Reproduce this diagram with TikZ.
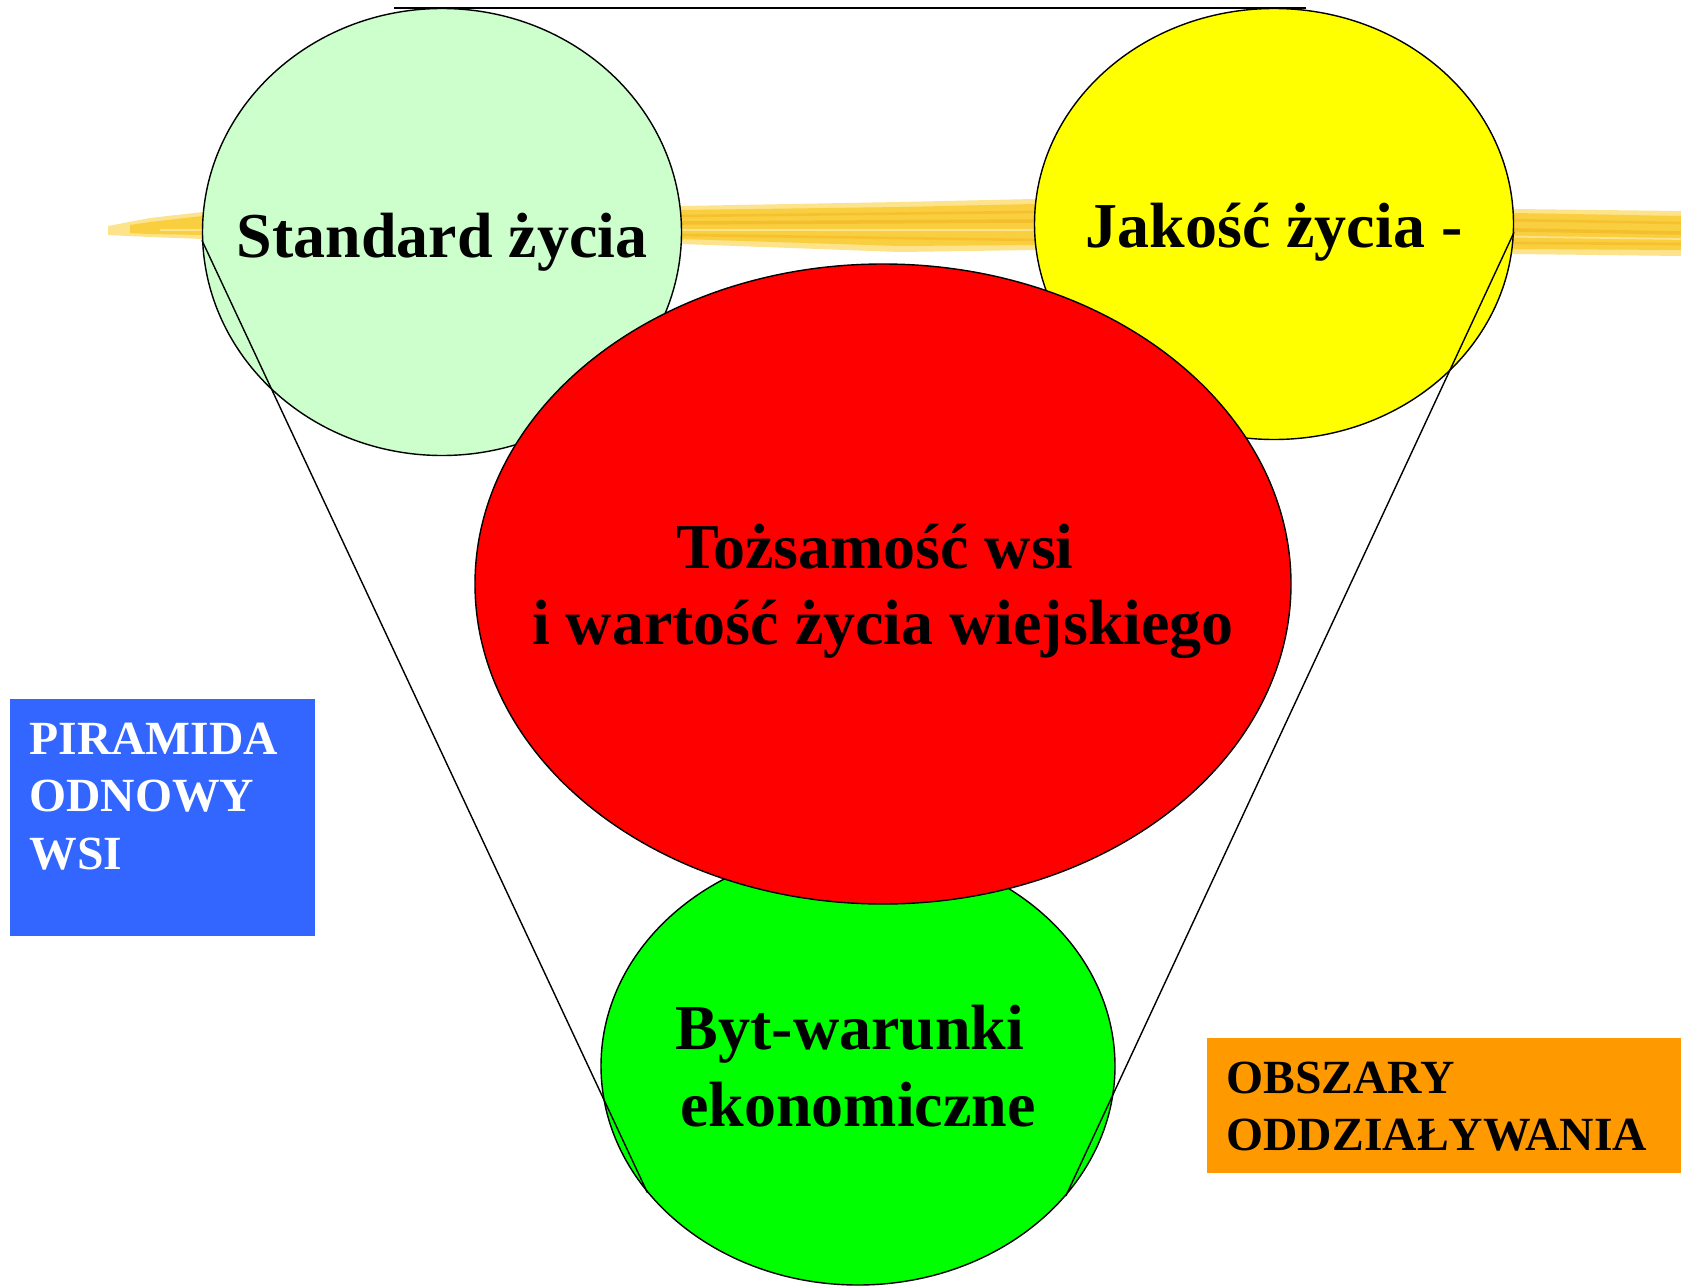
\documentclass[tikz,border=0pt]{standalone}
\usepackage{fontspec}
\setmainfont{Liberation Serif}
\usepackage{tikz}
\usetikzlibrary{shapes.geometric,positioning,calc}

\definecolor{jasnozielony}{HTML}{CCFFCC}
\definecolor{zolty}{HTML}{FFFF00}
\definecolor{czerwony}{HTML}{FF0000}
\definecolor{zielony}{HTML}{00FF00}
\definecolor{niebieski}{HTML}{3366FF}
\definecolor{pomaranczowy}{HTML}{FF9900}
\definecolor{pedzel}{HTML}{F9CF3F}
\definecolor{pedzeljasny}{HTML}{FCE38C}
\definecolor{pedzelciemny}{HTML}{F2B520}

\tikzset{
  kolo/.style={ellipse, draw, line width=0.8pt, inner sep=0pt},
  duzy/.style={font=\fontsize{36.4}{43.5}\selectfont\bfseries, align=center, inner sep=0pt},
  maly/.style={font=\fontsize{27.1}{32.6}\selectfont\bfseries, align=left, inner sep=0pt, anchor=north west},
  pole/.style={rectangle, inner sep=0pt}
}

\begin{document}
\begin{tikzpicture}
        % Rozmiar
        \useasboundingbox (0,0) rectangle (33.62,-25.72);
        % Pas - pędzel
        \fill[pedzeljasny] (2.16,-4.52) -- (2.16,-4.70) -- (3.00,-4.74) -- (4.06,-4.78) -- (13.64,-4.88) -- (18.00,-5.04) -- (20.68,-5.00) -- (30.28,-5.08) -- (33.62,-5.12) -- (33.62,-4.22) -- (30.28,-4.18) -- (20.68,-3.98) -- (18.00,-4.04) -- (13.64,-4.12) -- (4.06,-4.24) -- (3.00,-4.36) -- cycle;
        \fill[pedzel] (2.60,-4.50) -- (2.60,-4.66) -- (3.00,-4.68) -- (4.06,-4.70) -- (13.64,-4.78) -- (18.00,-4.92) -- (20.68,-4.90) -- (30.28,-4.98) -- (33.62,-5.00) -- (33.62,-4.32) -- (30.28,-4.26) -- (20.68,-4.08) -- (18.00,-4.14) -- (13.64,-4.20) -- (4.06,-4.32) -- (3.00,-4.44) -- cycle;
        \draw[pedzelciemny, line width=2pt, opacity=0.6] (4.06,-4.52) -- (13.64,-4.46) -- (20.68,-4.42) -- (33.62,-4.66);
        \draw[pedzelciemny, line width=1.5pt, opacity=0.5] (13.64,-4.32) -- (20.68,-4.24) -- (33.62,-4.46);
        \draw[pedzelciemny, line width=1.5pt, opacity=0.5] (13.64,-4.70) -- (20.68,-4.80) -- (33.62,-4.88);
        \draw[pedzeljasny, line width=1pt] (3.20,-4.60) -- (13.64,-4.60) -- (20.68,-4.60) -- (33.62,-4.78);
        % Elipsa - Standard życia
        \node at (8.84,-4.64) [kolo, fill=jasnozielony, minimum width=9.58cm, minimum height=8.94cm] (std) {};
        % Elipsa - Jakość życia
        \node at (25.48,-4.48) [kolo, fill=zolty, minimum width=9.58cm, minimum height=8.62cm] (jak) {};
        % Elipsa - Byt
        \node at (17.16,-21.32) [kolo, fill=zielony, minimum width=10.28cm, minimum height=8.76cm] (byt) {};
        % Elipsa - Tożsamość wsi
        \node at (17.66,-11.68) [kolo, fill=czerwony, minimum width=16.32cm, minimum height=12.80cm] (tozs) {};
        % Linie piramidy
        \draw[line width=1pt] ([xshift=-0.96cm]std.north) -- ([xshift=0.64cm]jak.north);
        \draw[line width=0.8pt] (std.182.9) -- (byt.211.4);
        \draw[line width=0.8pt] (jak.358.8) -- (byt.328.7);
        % Teksty w elipsach
        \node at ([yshift=-0.50cm]std.center) [duzy, anchor=base] (stdtxt) {Standard życia};
        \node at ([yshift=-0.46cm]jak.center) [duzy, anchor=base] (jaktxt) {Jakość życia -};
        \node at ([yshift=-0.15cm]tozs.center) [duzy] (tozstxt) {Tożsamość wsi\hphantom{\ }\\i wartość życia wiejskiego};
        \node at (byt.center) [duzy] (byttxt) {Byt-warunki\hphantom{\ }\\ekonomiczne};
        % Pole - PIRAMIDA ODNOWY WSI (niebieskie)
        \node at (3.25,-16.35) [pole, fill=niebieski, minimum width=6.10cm, minimum height=4.74cm] (piramida) {};
        \node at ([xshift=0.39cm,yshift=-0.48cm]piramida.north west) [maly, white] (piramidatxt) {PIRAMIDA\\ODNOWY\\WSI};
        % Pole - OBSZARY ODDZIAŁYWANIA (pomarańczowe)
        \node at (28.875,-22.105) [pole, fill=pomaranczowy, minimum width=9.49cm, minimum height=2.69cm] (obszary) {};
        \node at ([xshift=0.40cm,yshift=-0.48cm]obszary.north west) [maly, black] (obszarytxt) {OBSZARY\\ODDZIAŁYWANIA};
\end{tikzpicture}
\end{document}
